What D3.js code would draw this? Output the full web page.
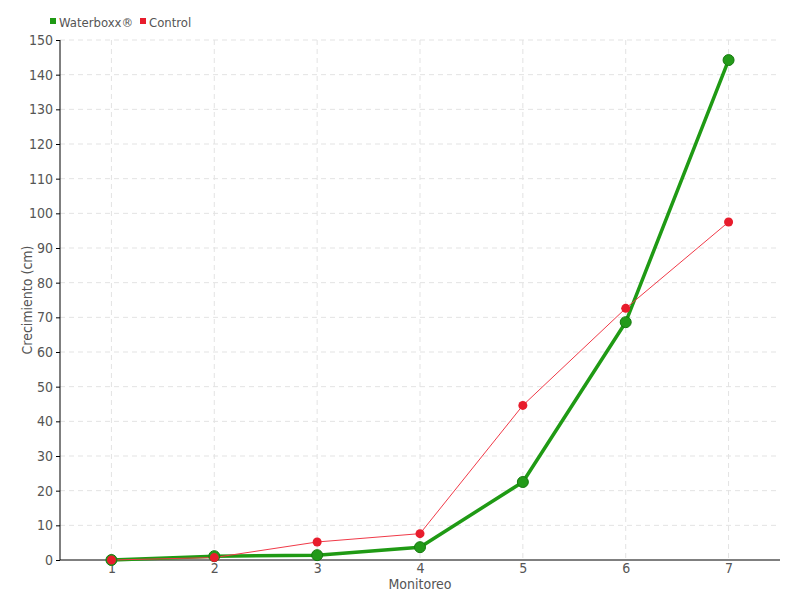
<!DOCTYPE html>
<html><head><meta charset="utf-8">
<script src="https://cdn.jsdelivr.net/npm/d3@7/dist/d3.min.js"></script>
<style>
body{margin:0;background:#fff;}
text{font-family:"DejaVu Sans Condensed","Roboto",sans-serif;fill:#555;}
</style></head>
<body><svg id="c" width="800" height="600"></svg>
<script>
const categories = ["1","2","3","4","5","6","7"];
const waterboxx = [0, 1.1, 1.4, 3.7, 22.5, 68.6, 144.2];
const control = [0, 0.7, 5.2, 7.6, 44.6, 72.6, 97.5];
const yTicks = [0,10,20,30,40,50,60,70,80,90,100,110,120,130,140,150];
const seriesNames = ["Waterboxx®", "Control"];

(function(){
const svg = d3.select("#c");
const pLeft=60, pRight=780, pTop=40, pBottom=560;
const x = d3.scalePoint().domain(categories).range([pLeft,pRight]).padding(0.5);
const y = d3.scaleLinear().domain([0,150]).range([pBottom,pTop]);

// grid
svg.append("g").selectAll("line").data(yTicks.slice(1)).join("line")
  .attr("x1",pLeft).attr("x2",pRight).attr("y1",d=>y(d)).attr("y2",d=>y(d))
  .attr("stroke","#e3e3e3").attr("stroke-dasharray","5,4");
svg.append("g").selectAll("line").data(categories).join("line")
  .attr("x1",d=>x(d)).attr("x2",d=>x(d)).attr("y1",pTop).attr("y2",pBottom)
  .attr("stroke","#e3e3e3").attr("stroke-dasharray","5,4");

// axes
const ya = svg.append("g").attr("transform",`translate(${pLeft},0)`)
  .call(d3.axisLeft(y).tickValues(yTicks).tickSize(4).tickPadding(3));
ya.select(".domain").attr("stroke","#000").attr("d",`M0,${pBottom}V${pTop}`);
ya.selectAll(".tick line").attr("stroke","#000");
ya.selectAll("text").attr("font-size",14).style("fill","#555");

const xa = svg.append("g").attr("transform",`translate(0,${pBottom})`)
  .call(d3.axisBottom(x).tickSize(0).tickPadding(3));
xa.select(".domain").attr("stroke","#000").attr("d",`M${pLeft},0H${pRight}`);
xa.selectAll("text").attr("font-size",14).style("fill","#555");

// axis titles
svg.append("text").attr("x",(pLeft+pRight)/2).attr("y",589).attr("text-anchor","middle")
  .attr("font-size",14).text("Monitoreo");
svg.append("text").attr("transform",`translate(32,${(pTop+pBottom)/2}) rotate(-90)`)
  .attr("text-anchor","middle").attr("font-size",14).text("Crecimiento (cm)");

// lines
const line = d3.line().x((d,i)=>x(categories[i])).y(d=>y(d));
svg.append("path").datum(waterboxx).attr("d",line).attr("fill","none")
  .attr("stroke","#1f9a14").attr("stroke-width",3.5).attr("stroke-linejoin","round");
svg.append("path").datum(control).attr("d",line).attr("fill","none")
  .attr("stroke","#f03a48").attr("stroke-width",1);

svg.append("g").selectAll("circle").data(waterboxx).join("circle")
  .attr("cx",(d,i)=>x(categories[i])).attr("cy",d=>y(d)).attr("r",5.5)
  .attr("fill","#239a19").attr("stroke","#157a0e").attr("stroke-width",1);
svg.append("g").selectAll("circle").data(control).join("circle")
  .attr("cx",(d,i)=>x(categories[i])).attr("cy",d=>y(d)).attr("r",4.5)
  .attr("fill","#e81c2c");

// legend
const lg = svg.append("g");
lg.append("rect").attr("x",50).attr("y",18).attr("width",6).attr("height",6).attr("fill","#1f9a14");
lg.append("text").attr("x",59).attr("y",27).attr("font-size",13).text(seriesNames[0]);
lg.append("rect").attr("x",140).attr("y",18).attr("width",6).attr("height",6).attr("fill","#e81c2c");
lg.append("text").attr("x",149).attr("y",27).attr("font-size",13).text(seriesNames[1]);
})();
</script></body></html>
